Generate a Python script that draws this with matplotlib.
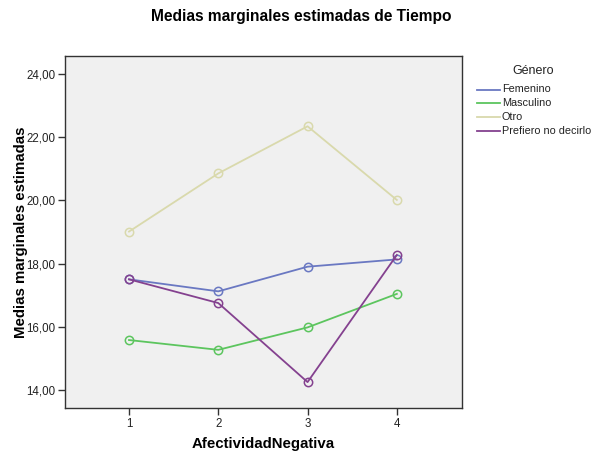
import matplotlib
matplotlib.use("Agg")
import matplotlib.pyplot as plt
from matplotlib.lines import Line2D

plt.rcParams['font.family'] = ['Liberation Sans', 'DejaVu Sans']

x_levels = [1, 2, 3, 4]
x_labels = ["1", "2", "3", "4"]
femenino = [17.50, 17.12, 17.90, 18.13]
masculino = [15.58, 15.27, 15.98, 17.04]
otro = [19.01, 20.85, 22.34, 20.01]
prefiero = [17.50, 16.75, 14.25, 18.27]
series_names = ["Femenino", "Masculino", "Otro", "Prefiero no decirlo"]
colors = ["#6a78c2", "#5cc55e", "#d9d9ac", "#84418f"]
y_ticks = [14, 16, 18, 20, 22, 24]

W, H = 593, 451
fig = plt.figure(figsize=(W / 100, H / 100), dpi=100)
fig.patch.set_facecolor("white")
ax = fig.add_axes([0.1096, 0.0953, 0.6695, 0.781])
ax.set_facecolor("#f0f0f0")

for vals, c in zip([femenino, masculino, otro, prefiero], colors):
    ax.plot(x_levels, vals, color=c, lw=1.3, marker="o", ms=6,
            mfc="none", mec=c, mew=1.1)

ax.set_xlim(0.283, 4.73)
ax.set_ylim(13.43, 24.57)
ax.set_xticks(x_levels)
ax.set_xticklabels(x_labels)
ax.set_yticks(y_ticks)
ax.set_yticklabels([f"{v:.2f}".replace(".", ",") for v in y_ticks])
ax.tick_params(axis="both", labelsize=8.3, length=5, width=1, pad=2,
               color="#333333", labelcolor="#222222")
for s in ax.spines.values():
    s.set_color("#333333")
    s.set_linewidth(1.0)

ax.set_xlabel("AfectividadNegativa", fontsize=10.8, fontweight="bold", labelpad=5)
ax.set_ylabel("Medias marginales estimadas", fontsize=10.8, fontweight="bold", labelpad=-1)
fig.text(0.508, 0.963, "Medias marginales estimadas de Tiempo", ha="center", va="center",
         fontsize=11.2, fontweight="bold")

# legend (manual placement)
fig.text(533 / W, 1 - 71 / H, "Género", ha="center", va="center", fontsize=9, color="#222222")
rows_y = [89.5, 103, 117, 131]
for name, c, yy in zip(series_names, colors, rows_y):
    fy = 1 - yy / H
    fig.add_artist(Line2D([477 / W, 500 / W], [fy, fy], color=c, lw=1.3,
                          transform=fig.transFigure))
    fig.text(502 / W, fy, name, ha="left", va="center", fontsize=7.8, color="#222222")

fig.savefig("out.png", dpi=100)
